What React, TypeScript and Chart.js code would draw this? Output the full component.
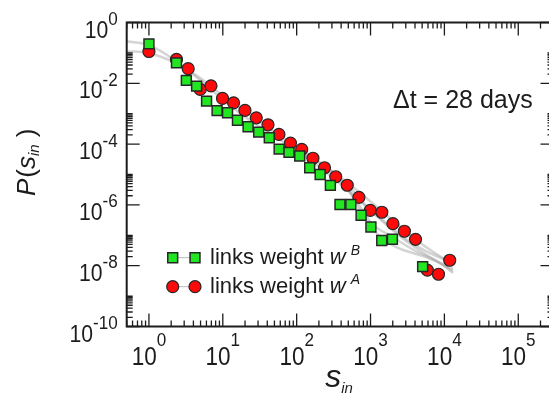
import React, { useEffect, useRef } from "react";
import { Chart, registerables } from "chart.js";

Chart.register(...registerables);

// ---------------- data ----------------
// links weight w^B (green squares)
const strengthB = [1, 2.36, 3.21, 4.42, 6.03, 8.37, 11.6, 15.8, 22.0, 30.6, 42.6, 57.9, 78.7, 110, 150, 208, 286, 386, 541, 745, 1012, 1419, 1977, 5075];
const probB = [0.198, 0.047, 0.0125, 0.00807, 0.00259, 0.00126, 0.00107, 6.06e-4, 3.71e-4, 2.48e-4, 1.61e-4, 6.86e-5, 5.35e-5, 4.04e-5, 1.67e-5, 9.96e-6, 4.4e-6, 1.03e-6, 1.03e-6, 4.58e-7, 1.88e-7, 6.75e-8, 7.39e-8, 9.3e-9];

// links weight w^A (red circles)
const strengthA = [1, 2.36, 3.4, 4.94, 6.92, 9.91, 14.0, 19.95, 28.4, 40.9, 57.5, 82.4, 117, 166, 238, 338, 484, 696, 991, 1423, 2009, 2875, 4067, 5878, 8318, 11800];
const probA = [0.111, 0.0608, 0.0303, 0.00628, 0.00826, 0.00318, 0.00228, 0.00128, 7.33e-4, 4.32e-4, 2.08e-4, 1.08e-4, 6.7e-5, 3.42e-5, 1.67e-5, 8.43e-6, 4.43e-6, 1.77e-6, 6.63e-7, 5.74e-7, 2.41e-7, 1.36e-7, 7.39e-8, 7.13e-9, 5.24e-9, 1.51e-8];

// faint grey reference curves
const guideX = [0.5, 1, 2.34, 4.74, 10.2, 22, 47.4, 102, 220, 474, 1021, 2202, 4742, 13060];
const guide1Y = [0.114, 0.098, 0.046, 0.01594, 0.00379, 9.7e-4, 2.67e-4, 7.98e-5, 2.2e-5, 5.65e-6, 1.24e-6, 2.54e-7, 5.59e-8, 1.06e-8];
const guide2Y = [0.243, 0.1795, 0.0535, 0.0137, 0.0028, 6.64e-4, 1.98e-4, 5.9e-5, 1.51e-5, 3.33e-6, 6.29e-7, 1.19e-7, 3.05e-8, 6.7e-9];
const guide3X = [102, 474, 751, 1191, 2202, 5533, 13060];
const guide3Y = [6.86e-5, 4.17e-6, 5.41e-7, 1.19e-7, 4.13e-8, 1.94e-8, 7.8e-9];
const guide4X = [220, 474, 877, 1619, 2992, 5533, 13060];
const guide4Y = [1.89e-5, 4.85e-6, 9.2e-7, 2.54e-7, 7.57e-8, 3.05e-8, 1.23e-8];
const guide5X = [349, 644, 1021, 1888, 4067, 8770, 13060];
const guide5Y = [8.24e-6, 1.34e-6, 2.54e-7, 9.5e-8, 3.05e-8, 1.23e-8, 5.77e-9];

// axes
const X_MIN = 0.5;
const X_MAX = 3e5;
const Y_MIN = 1e-10;
const Y_MAX = 1;
const xTickDecades = [-1, 0, 1, 2, 3, 4, 5];
const xLabelExponents = ["0", "1", "2", "3", "4", "5"];
const yMajorExponents = [0, -2, -4, -6, -8, -10];
const yLabelExponents = ["0", "-2", "-4", "-6", "-8", "-10"];

// text
const legendLabels = ["links weight ", "links weight "];
const legendSymbols = ["w", "w"];
const legendSupers = ["B", "A"];
const annotationText = "\u0394t = 28 days";
const xTitle = "s";
const xTitleSub = "in";

// ---------------- styles ----------------
const FONT = "Arial, 'Liberation Sans', Helvetica, sans-serif";
const INK = "#1c1c1c";
const GREEN = "#22e622";
const RED = "#ff0a0a";
const MARK_BORDER = "#262626";
const MAJOR = 13;
const MINOR = 6;

function drawText(ctx: CanvasRenderingContext2D, s: string, x: number, y: number, font: string, sx = 1) {
  ctx.save();
  ctx.translate(x, y);
  ctx.scale(sx, 1);
  ctx.font = font;
  ctx.textAlign = "left";
  ctx.textBaseline = "alphabetic";
  ctx.fillText(s, 0, 0);
  ctx.restore();
}
function textW(ctx: CanvasRenderingContext2D, s: string, font: string, sx = 1) {
  ctx.font = font;
  return ctx.measureText(s).width * sx;
}

const framePlugin = {
  id: "frame",
  afterDraw(chart: any) {
    const { ctx, chartArea: a, scales } = chart;
    const xs = scales.x;
    const ys = scales.y;
    ctx.save();
    ctx.fillStyle = INK;
    ctx.strokeStyle = INK;

    // tick marks (inward)
    ctx.lineWidth = 1.3;
    ctx.beginPath();
    for (const n of xTickDecades) {
      for (let m = 1; m <= 9; m++) {
        const v = m * Math.pow(10, n);
        if (v < X_MIN * 0.999 || v > X_MAX * 1.001) continue;
        const px = xs.getPixelForValue(v);
        const len = m === 1 ? MAJOR : MINOR;
        ctx.moveTo(px, a.bottom);
        ctx.lineTo(px, a.bottom - len);
        ctx.moveTo(px, a.top);
        ctx.lineTo(px, a.top + len);
      }
    }
    for (const e of yMajorExponents) {
      for (let m = 1; m <= 10; m++) {
        const v = m * Math.pow(10, e);
        if (v < Y_MIN * 0.999 || v > Y_MAX * 1.001) continue;
        const py = ys.getPixelForValue(v);
        const len = m === 1 ? MAJOR : MINOR;
        ctx.moveTo(a.left, py);
        ctx.lineTo(a.left + len, py);
        ctx.moveTo(a.right, py);
        ctx.lineTo(a.right - len, py);
      }
    }
    ctx.stroke();

    // frame
    ctx.lineWidth = 2;
    ctx.strokeRect(a.left, a.top, a.right - a.left, a.bottom - a.top);

    // x tick labels
    const xBase = `25px ${FONT}`;
    const xExp = `19px ${FONT}`;
    xLabelExponents.forEach((ex) => {
      const px = xs.getPixelForValue(Math.pow(10, Number(ex)));
      const wb = textW(ctx, "10", xBase, 0.9);
      const we = textW(ctx, ex, xExp, 0.9);
      const start = px - (wb + we) / 2;
      drawText(ctx, "10", start, a.bottom + 38.5, xBase, 0.9);
      drawText(ctx, ex, start + wb, a.bottom + 19, xExp, 0.9);
    });

    // y tick labels
    const yBase = `23px ${FONT}`;
    const yExp = `18px ${FONT}`;
    yLabelExponents.forEach((ex) => {
      const py = ys.getPixelForValue(Math.pow(10, Number(ex)));
      const wb = textW(ctx, "10", yBase, 0.92);
      const we = textW(ctx, ex, yExp, 0.95);
      const right = a.left - 9;
      drawText(ctx, "10", right - we - wb, py + 15, yBase, 0.92);
      drawText(ctx, ex, right - we, py + 2.5, yExp, 0.95);
    });

    // y axis title P(s_in )
    ctx.save();
    ctx.translate(35, 196);
    ctx.rotate(-Math.PI / 2);
    let cx = 0;
    const tMainI = `italic 26px ${FONT}`;
    const tMain = `26px ${FONT}`;
    const tSub = `italic 15px ${FONT}`;
    drawText(ctx, "P", cx, 0, tMainI); cx += textW(ctx, "P", tMainI) + 1;
    drawText(ctx, "(", cx, 0, tMain); cx += textW(ctx, "(", tMain);
    drawText(ctx, "s", cx, 0, tMainI); cx += textW(ctx, "s", tMainI);
    drawText(ctx, "in", cx, 4, tSub); cx += textW(ctx, "in", tSub) + 7;
    drawText(ctx, ")", cx, 0, tMain);
    ctx.restore();

    // x axis title s_in
    const xt = `italic 32px ${FONT}`;
    const xs2 = `italic 15px ${FONT}`;
    const tw = textW(ctx, xTitle, xt) + textW(ctx, xTitleSub, xs2);
    const tx = (a.left + a.right) / 2 - tw / 2 - 1;
    drawText(ctx, xTitle, tx, 386.5, xt);
    drawText(ctx, xTitleSub, tx + textW(ctx, xTitle, xt), 393, xs2);

    // annotation
    drawText(ctx, annotationText, 393, 108.3, `25px ${FONT}`);

    // legend
    const lf = `22px ${FONT}`;
    const lfi = `italic 22px ${FONT}`;
    const lsup = `italic 14px ${FONT}`;
    const rows = [257.7, 286.7];
    rows.forEach((ry, i) => {
      const m1 = 172.7;
      const m2 = 195;
      ctx.strokeStyle = "#b8b8b8";
      ctx.lineWidth = 1;
      ctx.beginPath();
      ctx.moveTo(m1, ry);
      ctx.lineTo(m2, ry);
      ctx.stroke();
      [m1, m2].forEach((mx) => {
        ctx.beginPath();
        if (i === 0) {
          ctx.rect(mx - 4.95, ry - 4.95, 9.9, 9.9);
          ctx.fillStyle = GREEN;
        } else {
          ctx.arc(mx, ry, 6, 0, Math.PI * 2);
          ctx.fillStyle = RED;
        }
        ctx.fill();
        ctx.lineWidth = i === 0 ? 1.5 : 1.2;
        ctx.strokeStyle = MARK_BORDER;
        ctx.stroke();
      });
      ctx.fillStyle = INK;
      let lx = 210;
      const by = ry + 5.8;
      drawText(ctx, legendLabels[i], lx, by, lf);
      lx += textW(ctx, legendLabels[i], lf);
      drawText(ctx, legendSymbols[i], lx, by, lfi);
      lx += textW(ctx, legendSymbols[i], lfi) + 5;
      drawText(ctx, legendSupers[i], lx, by - 8.5, lsup);
    });

    ctx.restore();
  },
};

export default function App() {
  const ref = useRef<HTMLCanvasElement>(null);
  useEffect(() => {
    const canvas = ref.current;
    if (!canvas) return;
    const xy = (xs: number[], ys: number[]) => xs.map((x, i) => ({ x, y: ys[i] }));
    const guides: [number[], number[]][] = [
      [guideX, guide1Y],
      [guideX, guide2Y],
      [guide3X, guide3Y],
      [guide4X, guide4Y],
      [guide5X, guide5Y],
    ];
    const chart = new Chart(canvas, {
      type: "scatter",
      data: {
        datasets: [
          {
            label: "links weight wB",
            data: xy(strengthB, probB),
            pointStyle: "rect",
            pointRadius: 7,
            backgroundColor: GREEN,
            borderColor: MARK_BORDER,
            borderWidth: 1.5,
          } as any,
          {
            label: "links weight wA",
            data: xy(strengthA, probA),
            pointStyle: "circle",
            pointRadius: 6,
            backgroundColor: RED,
            borderColor: MARK_BORDER,
            borderWidth: 1.2,
          },
          ...guides.map(([gx, gy]) => ({
            label: "guide",
            data: xy(gx, gy),
            showLine: true,
            pointRadius: 0,
            borderColor: "rgba(170,170,170,0.5)",
            borderWidth: 2.5,
            cubicInterpolationMode: "monotone",
            fill: false,
          })),
        ],
      },
      options: {
        animation: false,
        responsive: false,
        devicePixelRatio: 1,
        events: [],
        layout: { padding: { left: 126.7, top: 22.5, right: 2, bottom: 76.5 } },
        scales: {
          x: { type: "logarithmic", min: X_MIN, max: X_MAX, display: false },
          y: { type: "logarithmic", min: Y_MIN, max: Y_MAX, display: false },
        },
        plugins: { legend: { display: false }, tooltip: { enabled: false } },
      } as any,
      plugins: [framePlugin],
    });
    return () => chart.destroy();
  }, []);

  return (
    <div style={{ position: "fixed", left: 0, top: 0, width: 549, height: 403, overflow: "hidden", background: "#fff" }}>
      <canvas ref={ref} width={562} height={403} style={{ display: "block", width: 562, height: 403 }} />
    </div>
  );
}
